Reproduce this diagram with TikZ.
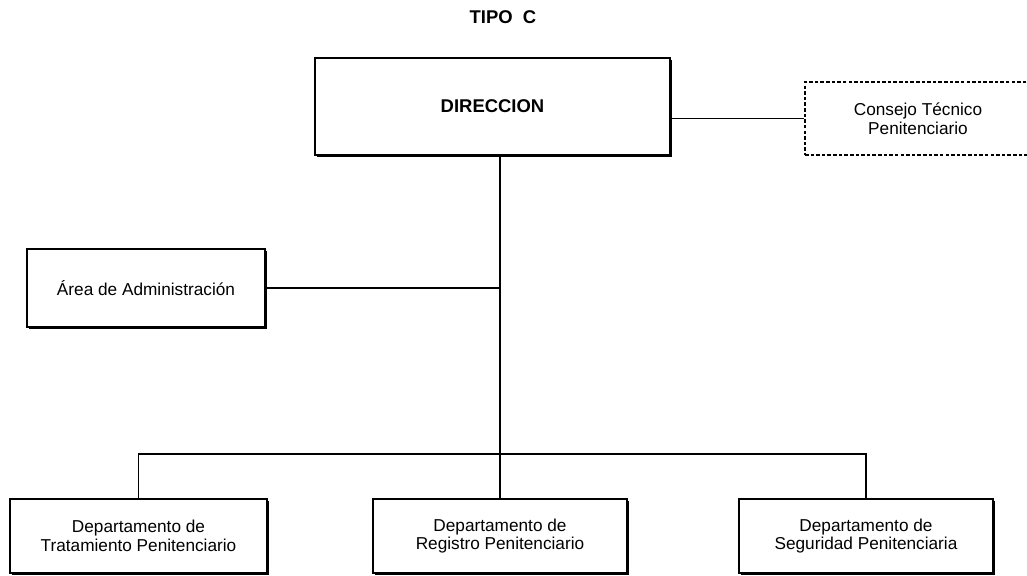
\documentclass[tikz,border=0pt]{standalone}
\usepackage{fontspec}
\setmainfont{Liberation Sans}
\usepackage{tikz}
\usetikzlibrary{positioning,calc,shadows}

\begin{document}
\begin{tikzpicture}[
    unitbox/.style={draw, line width=0.7pt, fill=white, align=center,
      font=\fontsize{9.8}{10.6}\selectfont, inner sep=2pt,
      drop shadow={shadow xshift=1.3pt, shadow yshift=-1.3pt, fill=black, opacity=1}},
    advisorybox/.style={draw, line width=0.6pt, dash pattern=on 2pt off 1.2pt,
      align=center, font=\fontsize{9.8}{10.6}\selectfont, inner sep=2pt},
    link/.style={line width=0.6pt}]
        \useasboundingbox (0,0) rectangle (20.54,-11.52);
        % Title
        \node[font=\fontsize{10.5}{12}\selectfont\bfseries] (title) at (10.06,-0.34) {TIPO~ C};
        % Top level
        \node[unitbox, minimum width=7.1cm, minimum height=1.94cm,
              font=\fontsize{10.5}{12}\selectfont\bfseries]
          (dir) at (9.85,-2.13) {DIRECCION};
        \node[advisorybox, minimum width=4.52cm, minimum height=1.46cm]
          (cons) at (18.36,-2.37) {Consejo Técnico\\Penitenciario};
        \node[unitbox, minimum width=4.76cm, minimum height=1.56cm]
          (area) at (2.92,-5.76) {Área de Administración};
        % Departments
        \node[unitbox, minimum width=5.14cm, minimum height=1.48cm]
          (trat) at (2.77,-10.72) {Departamento de\\Tratamiento Penitenciario};
        \node[unitbox, minimum width=5.08cm, minimum height=1.48cm]
          (reg) at (10.0,-10.72) {Departamento de\\Registro Penitenciario};
        \node[unitbox, minimum width=5.08cm, minimum height=1.48cm]
          (seg) at (17.32,-10.72) {Departamento de\\Seguridad Penitenciaria};
        % Connectors
        \coordinate (bus) at (10.0,-9.08);
        \draw[link] (dir.east |- cons.west) -- (cons.west);
        \draw[link] (dir.south -| bus) -- (bus);
        \draw[link] (area.east) -- (area.east -| bus);
        \draw[link] (trat.north) |- (bus) -| (seg.north);
        \draw[link] (bus) -- (reg.north);
      \end{tikzpicture}
\end{document}
